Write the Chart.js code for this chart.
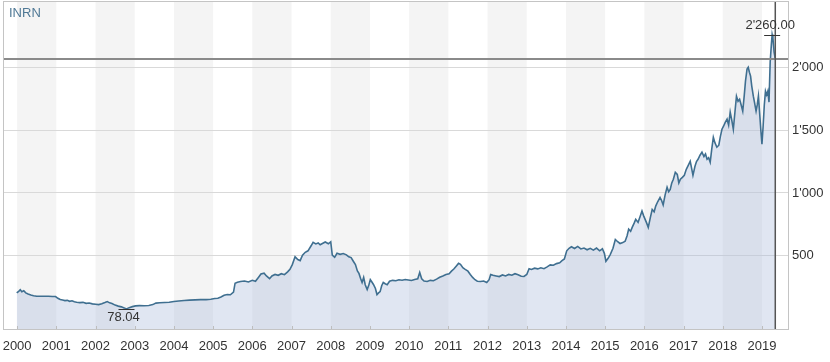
<!DOCTYPE html>
<html>
<head>
<meta charset="utf-8">
<script src="https://cdn.jsdelivr.net/npm/chart.js@4/dist/chart.umd.min.js"></script>
<style>
html, body { margin: 0; padding: 0; background: #fff; }
</style>
</head>
<body>
<canvas id="chart" width="830" height="362"></canvas>
<script>
// INRN weekly closes (decimal years)
const dates = [
    1999.99, 2000.04, 2000.08, 2000.12, 2000.17, 2000.22, 2000.28, 2000.35, 2000.42, 2000.5, 2000.6, 2000.7, 2000.8, 2000.9, 2000.98,
    2001.04, 2001.1, 2001.16, 2001.22, 2001.28, 2001.34, 2001.4, 2001.46, 2001.52, 2001.6, 2001.68, 2001.76, 2001.84, 2001.92,
    2002.0, 2002.08, 2002.16, 2002.24, 2002.3, 2002.36, 2002.42, 2002.5, 2002.58, 2002.66, 2002.73, 2002.79, 2002.86, 2002.94,
    2003.02, 2003.12, 2003.24, 2003.36, 2003.46, 2003.54, 2003.64, 2003.76, 2003.88, 2004.0, 2004.12, 2004.26, 2004.4, 2004.54, 2004.68, 2004.82, 2004.94,
    2005.04, 2005.12, 2005.2, 2005.28, 2005.36, 2005.44, 2005.52, 2005.56, 2005.62, 2005.7, 2005.8, 2005.9, 2006.0, 2006.08, 2006.16, 2006.22, 2006.3, 2006.36, 2006.44, 2006.5, 2006.58, 2006.66, 2006.74, 2006.82, 2006.9, 2006.96,
    2007.02, 2007.09, 2007.16, 2007.22, 2007.28, 2007.35, 2007.42, 2007.5, 2007.55, 2007.62, 2007.68, 2007.73, 2007.8, 2007.86, 2007.94, 2008.0, 2008.04, 2008.1, 2008.16, 2008.24, 2008.32, 2008.4, 2008.46, 2008.52, 2008.58, 2008.63, 2008.68, 2008.72, 2008.76, 2008.8, 2008.84, 2008.88, 2008.93, 2008.97,
    2009.01, 2009.05, 2009.09, 2009.14, 2009.18, 2009.22, 2009.26, 2009.3, 2009.34, 2009.39, 2009.44, 2009.5, 2009.58, 2009.66, 2009.74, 2009.82, 2009.9, 2009.98,
    2010.06, 2010.14, 2010.22, 2010.27, 2010.32, 2010.38, 2010.46, 2010.54, 2010.62, 2010.7, 2010.78, 2010.86, 2010.94, 2011.02, 2011.08, 2011.14, 2011.2, 2011.26, 2011.31, 2011.37, 2011.43, 2011.5, 2011.56, 2011.62, 2011.68, 2011.74, 2011.82, 2011.9, 2011.98,
    2012.04, 2012.08, 2012.14, 2012.22, 2012.3, 2012.38, 2012.46, 2012.54, 2012.62, 2012.7, 2012.78, 2012.86, 2012.93, 2013.0, 2013.06, 2013.12, 2013.2, 2013.28, 2013.36, 2013.44, 2013.52, 2013.6, 2013.68, 2013.76, 2013.84, 2013.9, 2013.96,
    2014.02, 2014.08, 2014.14, 2014.22, 2014.3, 2014.38, 2014.46, 2014.54, 2014.62, 2014.7, 2014.78, 2014.86, 2014.93, 2014.98,
    2015.02, 2015.08, 2015.13, 2015.2, 2015.26, 2015.32, 2015.38, 2015.45, 2015.51, 2015.56, 2015.6, 2015.65, 2015.69, 2015.74, 2015.78, 2015.84, 2015.89, 2015.94, 2015.98,
    2016.02, 2016.06, 2016.1, 2016.15, 2016.2, 2016.25, 2016.29, 2016.34, 2016.4, 2016.44, 2016.48, 2016.53, 2016.58, 2016.62, 2016.66, 2016.7, 2016.74, 2016.79, 2016.84, 2016.88, 2016.92, 2016.97,
    2017.02, 2017.07, 2017.12, 2017.17, 2017.21, 2017.24, 2017.29, 2017.33, 2017.37, 2017.42, 2017.47, 2017.52, 2017.56, 2017.6, 2017.64, 2017.68, 2017.72, 2017.76, 2017.8, 2017.85, 2017.9, 2017.94, 2017.98,
    2018.02, 2018.06, 2018.11, 2018.15, 2018.19, 2018.23, 2018.27, 2018.31, 2018.35, 2018.39, 2018.43, 2018.47, 2018.51, 2018.55, 2018.58, 2018.62, 2018.65, 2018.68, 2018.71, 2018.74, 2018.78, 2018.81, 2018.85, 2018.88, 2018.91, 2018.94, 2018.97,
    2019.0, 2019.03, 2019.06, 2019.09, 2019.12, 2019.15, 2019.18, 2019.21, 2019.24, 2019.26, 2019.28, 2019.31, 2019.34
];
const prices = [
    205, 218, 230, 214, 222, 205, 196, 188, 182, 178, 179, 178, 178, 177, 176,
    162, 152, 149, 144, 146, 138, 142, 134, 131, 128, 130, 122, 125, 118,
    115, 112, 118, 128, 136, 126, 121, 108, 100, 94, 86, 78.04, 88, 96,
    102, 104, 103, 105, 112, 124, 127, 129, 131, 137, 141, 145, 148, 150, 152, 152, 155,
    160, 163, 172, 186, 192, 190, 212, 282, 290, 296, 300, 292, 305, 298, 330, 355, 362, 340, 318, 340, 352, 345, 358, 350, 372, 392,
    430, 492, 470, 462, 505, 528, 540, 580, 608, 595, 602, 588, 600, 610, 596, 612, 505, 488, 520, 512, 518, 508, 492, 486, 455, 430, 380, 360, 322, 288, 328, 270, 232, 265,
    310, 292, 272, 240, 192, 205, 215, 262, 288, 278, 270, 298, 305, 302, 310, 306, 312, 308,
    304, 312, 318, 368, 318, 300, 296, 305, 302, 315, 330, 340, 352, 358, 378, 395, 418, 440, 432, 405, 392, 378, 352, 328, 310, 298, 296, 300, 288,
    310, 352, 345, 340, 335, 348, 340, 352, 346, 358, 350, 338, 336, 352, 398, 392, 402, 396, 405, 398, 412, 428, 425, 438, 445, 462, 475,
    540, 560, 572, 558, 575, 555, 562, 548, 560, 545, 562, 540, 556, 520,
    457, 482, 510, 560, 630, 612, 598, 605, 616, 660, 712, 695, 726, 760, 790, 766, 810, 856, 820,
    790, 760, 726, 800, 869, 850, 896, 930, 965, 940, 905, 985, 1045, 1010, 1029, 1080, 1109, 1164, 1148, 1080, 1109, 1124,
    1140, 1188, 1220, 1252, 1190, 1140, 1210, 1250, 1268, 1300, 1324, 1290, 1310, 1268, 1280, 1244, 1350, 1443, 1400, 1364, 1380, 1450, 1507,
    1531, 1560, 1587, 1540, 1643, 1580, 1507, 1640, 1770, 1730, 1746, 1700, 1651, 1780, 1890, 1986, 2000, 1960, 1930, 1850, 1770, 1720, 1651, 1700, 1770, 1640, 1507,
    1388, 1531, 1700, 1810, 1780, 1810, 1722, 2041, 2180, 2260, 2230, 2121, 2065
];
const yearTicks = [2000, 2001, 2002, 2003, 2004, 2005, 2006, 2007, 2008, 2009, 2010, 2011, 2012, 2013, 2014, 2015, 2016, 2017, 2018, 2019];
const priceTicks = [500, 1000, 1500, 2000];
const symbol = 'INRN';

const FONT = 'Liberation Sans, Arial, sans-serif';

function swiss(n, dec) {
    const parts = n.toFixed(dec || 0).split('.');
    parts[0] = parts[0].replace(/\B(?=(\d{3})+(?!\d))/g, "'");
    return parts.join('.');
}

// alternating year bands behind the plot
const bands = {
    id: 'bands',
    beforeDraw(chart) {
        const { ctx, chartArea: a, scales: { x } } = chart;
        ctx.save();
        ctx.beginPath();
        ctx.rect(a.left, a.top, a.right - a.left, a.bottom - a.top);
        ctx.clip();
        ctx.fillStyle = '#f4f4f4';
        yearTicks.forEach(yr => {
            if (yr % 2 === 0) {
                const x0 = x.getPixelForValue(yr);
                const x1 = x.getPixelForValue(yr + 1);
                ctx.fillRect(x0, a.top, x1 - x0, a.bottom - a.top);
            }
        });
        ctx.restore();
    }
};

// frame, crosshair, hi/lo labels and symbol
const marks = {
    id: 'marks',
    afterDatasetsDraw(chart) {
        const { ctx, chartArea: a, scales: { x, y } } = chart;
        ctx.save();

        ctx.strokeStyle = '#bdbdbd';
        ctx.lineWidth = 1;
        yearTicks.forEach(yr => {
            const px = Math.round(x.getPixelForValue(yr)) + 0.5;
            ctx.beginPath();
            ctx.moveTo(px, a.bottom);
            ctx.lineTo(px, a.bottom - 4);
            ctx.stroke();
        });

        const last = dates.length - 1;
        const lx = x.getPixelForValue(dates[last]);
        const ly = y.getPixelForValue(prices[last]);
        ctx.strokeStyle = '#8a8a8a';
        ctx.lineWidth = 2;
        ctx.beginPath();
        ctx.moveTo(a.left, ly);
        ctx.lineTo(a.right, ly);
        ctx.stroke();
        ctx.strokeStyle = '#555';
        ctx.lineWidth = 1.5;
        ctx.beginPath();
        ctx.moveTo(lx, a.top);
        ctx.lineTo(lx, a.bottom);
        ctx.stroke();

        ctx.strokeStyle = '#c4c4c4';
        ctx.lineWidth = 1;
        ctx.strokeRect(a.left + 0.5, a.top + 0.5, a.right - a.left - 1, a.bottom - a.top - 1);

        let hi = 0, lo = 0;
        prices.forEach((p, i) => {
            if (p > prices[hi]) hi = i;
            if (p < prices[lo]) lo = i;
        });
        ctx.fillStyle = '#333';
        ctx.strokeStyle = '#333';
        ctx.lineWidth = 1;
        ctx.font = '13px ' + FONT;
        ctx.textAlign = 'center';

        const hx = x.getPixelForValue(dates[hi]), hy = y.getPixelForValue(prices[hi]);
        ctx.beginPath();
        ctx.moveTo(hx - 8, Math.round(hy) + 0.5);
        ctx.lineTo(hx + 8, Math.round(hy) + 0.5);
        ctx.stroke();
        ctx.textBaseline = 'bottom';
        ctx.fillText(swiss(prices[hi], 2), hx - 2, hy - 3);

        const mx = x.getPixelForValue(dates[lo]), my = y.getPixelForValue(prices[lo]);
        ctx.beginPath();
        ctx.moveTo(mx - 8, Math.round(my) + 0.5);
        ctx.lineTo(mx + 8, Math.round(my) + 0.5);
        ctx.stroke();
        ctx.textBaseline = 'top';
        ctx.fillText(swiss(prices[lo], 2), mx - 3, my + 2);

        ctx.fillStyle = '#4f7895';
        ctx.textAlign = 'left';
        ctx.textBaseline = 'middle';
        ctx.font = '13px ' + FONT;
        ctx.fillText(symbol, 9, 13);
        ctx.restore();
    }
};

const ctx = document.getElementById('chart').getContext('2d');
new Chart(ctx, {
    type: 'line',
    data: {
        datasets: [{
            data: dates.map((d, i) => ({ x: d, y: prices[i] })),
            borderColor: '#3f6f90',
            borderWidth: 1.6,
            backgroundColor: 'rgba(170, 186, 218, 0.36)',
            fill: 'start',
            pointRadius: 0,
            tension: 0
        }]
    },
    options: {
        responsive: false,
        animation: false,
        layout: { padding: { left: 3, top: 1, right: 0, bottom: 0 } },
        plugins: {
            legend: { display: false },
            tooltip: { enabled: false }
        },
        scales: {
            x: {
                type: 'linear',
                min: 1999.64,
                max: 2019.69,
                grid: { display: false },
                border: { display: false },
                afterBuildTicks: s => { s.ticks = yearTicks.map(v => ({ value: v })); },
                afterFit: s => {
                    s.height = 32;
                    s.paddingLeft = 0;
                    s.paddingRight = 0;
                },
                ticks: {
                    autoSkip: false,
                    maxRotation: 0,
                    padding: 1,
                    color: '#333',
                    font: { family: FONT, size: 13 },
                    callback: v => String(v)
                }
            },
            y: {
                position: 'right',
                min: -90,
                max: 2527,
                grid: { color: '#d9d9d9', drawTicks: false },
                border: { display: false },
                afterBuildTicks: s => { s.ticks = priceTicks.map(v => ({ value: v })); },
                afterFit: s => {
                    s.width = 41;
                    s.paddingTop = 0;
                    s.paddingBottom = 0;
                },
                ticks: {
                    padding: 3,
                    color: '#333',
                    font: { family: FONT, size: 13 },
                    callback: v => swiss(v)
                }
            }
        }
    },
    plugins: [bands, marks]
});
</script>
</body>
</html>
